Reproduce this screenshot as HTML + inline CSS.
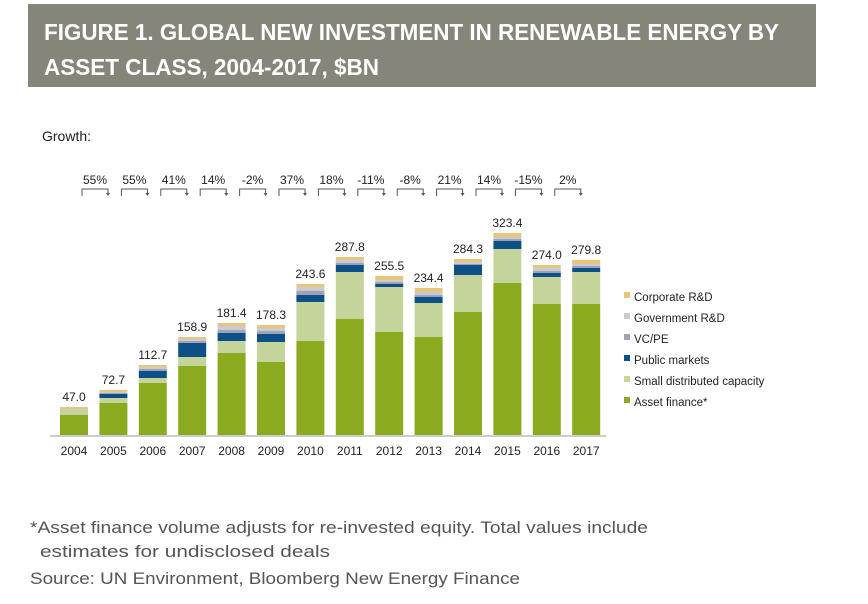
<!DOCTYPE html>
<html><head><meta charset="utf-8"><style>
html,body{margin:0;padding:0;background:#fff;width:868px;height:604px;overflow:hidden}
svg{display:block}
</style></head><body>
<svg width="868" height="604" xmlns="http://www.w3.org/2000/svg" font-family="Liberation Sans, Arial, sans-serif">
<rect x="28" y="4" width="788" height="83" fill="#86857a"/>
<g fill="#fff" font-family="Liberation Sans Narrow, Liberation Sans, sans-serif" font-weight="bold" font-size="23">
<text x="44" y="40" textLength="735" lengthAdjust="spacingAndGlyphs">FIGURE 1. GLOBAL NEW INVESTMENT IN RENEWABLE ENERGY BY</text>
<text x="44" y="75" textLength="335" lengthAdjust="spacingAndGlyphs">ASSET CLASS, 2004-2017, $BN</text>
</g>
<text x="42" y="141" font-size="14" fill="#222">Growth:</text>
<g id="bars"></g>
<line x1="50" y1="436" x2="606" y2="436" stroke="#999" stroke-width="1"/>
<g font-size="12" fill="#222" text-anchor="middle" id="labels"></g>
<g id="growth" font-size="12" fill="#222" text-anchor="middle"></g>
<g font-size="11.5" fill="#222">
<rect x="624" y="292" width="6" height="6" fill="#e8c57a"/><text x="634" y="301">Corporate R&amp;D</text>
<rect x="624" y="313" width="6" height="6" fill="#c9cbd0"/><text x="634" y="322">Government R&amp;D</text>
<rect x="624" y="334" width="6" height="6" fill="#9ea3b5"/><text x="634" y="343">VC/PE</text>
<rect x="624" y="355" width="6" height="6" fill="#0d4f87"/><text x="634" y="364">Public markets</text>
<rect x="624" y="376" width="6" height="6" fill="#c4d49a"/><text x="634" y="385">Small distributed capacity</text>
<rect x="624" y="397" width="6" height="6" fill="#8aab1f"/><text x="634" y="406">Asset finance*</text>
</g>
<g font-size="16.5" fill="#555">
<text x="30" y="533" textLength="618" lengthAdjust="spacingAndGlyphs">*Asset finance volume adjusts for re-invested equity. Total values include</text>
<text x="40" y="557" textLength="290" lengthAdjust="spacingAndGlyphs">estimates for undisclosed deals</text>
<text x="30" y="584" textLength="490" lengthAdjust="spacingAndGlyphs">Source: UN Environment, Bloomberg New Energy Finance</text>
</g>
</svg>
<script>
var d=[
[2004,"47.0",407,409,410,410,415],
[2005,"72.7",390,392,394,398,403],
[2006,"112.7",365,367,371,378,383],
[2007,"158.9",337,339,343,357,366],
[2008,"181.4",323,326,333,341,353],
[2009,"178.3",325,328,334,342,362],
[2010,"243.6",284,287,295,302,341],
[2011,"287.8",257,260,265,272,319],
[2012,"255.5",276,280,284,287,332],
[2013,"234.4",288,292,297,303,337],
[2014,"284.3",259,262,265,275,312],
[2015,"323.4",233,237,241,249,283],
[2016,"274.0",265,268,273,277,304],
[2017,"279.8",260,264,268,272,304]];
var g=["55%","55%","41%","14%","-2%","37%","18%","-11%","-8%","21%","14%","-15%","2%"];
var B=435,s="",l="",gr="";
function r(x,y1,y2,c){return y2>y1?'<rect x="'+x+'" y="'+y1+'" width="28" height="'+(y2-y1)+'" fill="'+c+'"/>':''}
d.forEach(function(v,i){var x=60+i*39.4;
var mid=(v[2+1]+v[4])/2;
s+=r(x,v[2],v[3],"#e8c57a")+r(x,v[3],Math.round((v[3]+v[4])/2),"#c9cbd0")+r(x,Math.round((v[3]+v[4])/2),v[4],"#9ea3b5")+r(x,v[4],v[5],"#0d4f87")+r(x,v[5],v[6],"#c4d49a")+r(x,v[6],B,"#8aab1f");
l+='<text x="'+(x+14)+'" y="'+(v[2]-6)+'">'+v[1]+'</text><text x="'+(x+14)+'" y="455">'+v[0]+'</text>';
if(i<13){var a=x+22,b=x+48;
gr+='<text x="'+(a+b)/2+'" y="184">'+g[i]+'</text><path d="M'+a+' 196V189H'+b+'V195" fill="none" stroke="#555" stroke-width="1"/><path d="M'+(b-2)+' 193L'+b+' 196L'+(b+2)+' 193Z" fill="#555"/>';}
});
document.getElementById("bars").innerHTML=s;
document.getElementById("labels").innerHTML=l;
document.getElementById("growth").innerHTML=gr;
</script>
</body></html>
